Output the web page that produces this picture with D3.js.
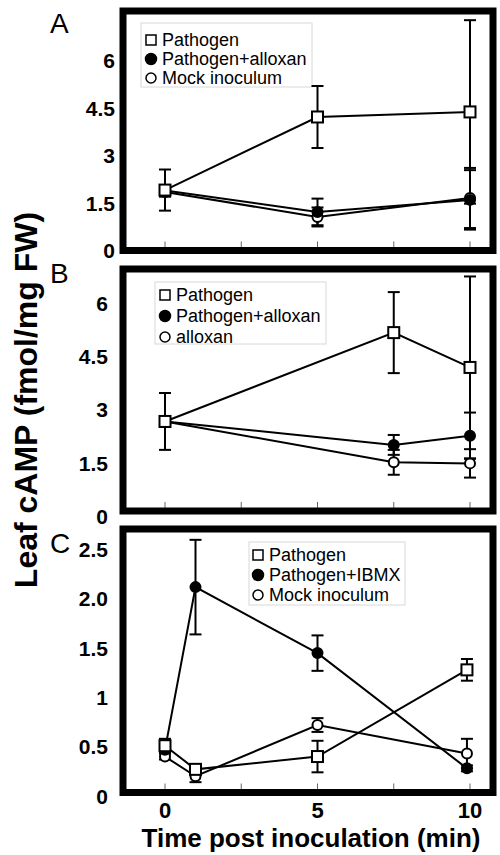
<!DOCTYPE html>
<html>
<head>
<meta charset="utf-8">
<script src="https://cdn.jsdelivr.net/npm/d3@7"></script>
<style>
  body { margin: 0; background: #fff; }
  svg { display: block; font-family: "Liberation Sans", Arial, sans-serif; }
</style>
</head>
<body>
<div id="chart"></div>
<script>
// ---- data ----
const timeA = [0, 5, 10];
const pathogenA = [1.91, 4.22, 4.38];
const pathogenErrA = [0.65, 0.98, 2.9];
const alloxanA = [1.9, 1.22, 1.6];
const alloxanErrA = [0.15, 0.42, 0.94];
const mockA = [1.85, 1.06, 1.66];
const mockErrA = [0.15, 0.3, 0.95];

const timeB = [0, 7.5, 10];
const pathogenB = [2.67, 5.17, 4.19];
const pathogenErrB = [0.8, 1.14, 2.56];
const pathAlloxanB = [2.67, 2.01, 2.27];
const pathAlloxanErrB = [0.15, 0.28, 0.65];
const alloxanB = [2.67, 1.52, 1.49];
const alloxanErrB = [0.15, 0.35, 0.4];

const timeC = [0, 1, 5, 9.9];
const pathogenC = [0.51, 0.27, 0.40, 1.28];
const pathogenErrC = [0.07, 0.05, 0.16, 0.11];
const ibmxC = [0.47, 2.12, 1.45, 0.28];
const ibmxErrC = [0.03, 0.48, 0.18, 0.03];
const mockC = [0.40, 0.20, 0.72, 0.43];
const mockErrC = [0.03, 0.06, 0.07, 0.15];

const legendA = ["Pathogen", "Pathogen+alloxan", "Mock inoculum"];
const legendB = ["Pathogen", "Pathogen+alloxan", "alloxan"];
const legendC = ["Pathogen", "Pathogen+IBMX", "Mock inoculum"];

const yTicksAB = [0, 1.5, 3, 4.5, 6];
const yTicksC = [0, 0.5, 1, 1.5, 2, 2.5];
const yTickLabelsC = ["0", "0.5", "1", "1.5", "2.0", "2.5"];
const xMinorTicks = [0, 2.5, 5, 7.5, 10];
const xTickLabels = [0, 5, 10];

// ---- layout ----
const W = 500, H = 855;
const frameLeft = 123, frameRight = 493;

const svg = d3.select("#chart").append("svg")
  .attr("width", W).attr("height", H);

const x = d3.scaleLinear().domain([0, 10]).range([165, 470]);

// draw order: open, filled, square (square on top)
const panels = [
  {
    letter: "A", letterY: 33, top: 11, bottom: 250.5, domain: [0, 7.57], labelX: 115,
    ticks: yTicksAB, tickLabels: yTicksAB.map(String),
    time: timeA,
    series: [
      { vals: mockA, err: mockErrA, kind: "open" },
      { vals: alloxanA, err: alloxanErrA, kind: "filled" },
      { vals: pathogenA, err: pathogenErrA, kind: "square" }
    ],
    legend: legendA, lbox: { x: 141, y: 23, w: 171, h: 64 }, lmark: 151, ltext: 162, lrow0: 40, lstep: 19
  },
  {
    letter: "B", letterY: 283, top: 269, bottom: 511, domain: [0.15, 6.96], labelX: 108,
    ticks: yTicksAB, tickLabels: yTicksAB.map(String),
    time: timeB,
    series: [
      { vals: alloxanB, err: alloxanErrB, kind: "open" },
      { vals: pathAlloxanB, err: pathAlloxanErrB, kind: "filled" },
      { vals: pathogenB, err: pathogenErrB, kind: "square" }
    ],
    legend: legendB, lbox: { x: 155, y: 282, w: 171, h: 62 }, lmark: 165, ltext: 176, lrow0: 295, lstep: 21
  },
  {
    letter: "C", letterY: 553, top: 529, bottom: 792.5, domain: [0.035, 2.71], labelX: 108,
    ticks: yTicksC, tickLabels: yTickLabelsC,
    time: timeC,
    series: [
      { vals: mockC, err: mockErrC, kind: "open" },
      { vals: ibmxC, err: ibmxErrC, kind: "filled" },
      { vals: pathogenC, err: pathogenErrC, kind: "square" }
    ],
    legend: legendC, lbox: { x: 249, y: 542, w: 156, h: 63 }, lmark: 258, ltext: 269, lrow0: 555, lstep: 20
  }
];
// legend rows follow the order square, filled, open
const legendKinds = ["square", "filled", "open"];

function drawMarker(g, kind, cx, cy, size) {
  if (kind === "square") {
    g.append("rect")
      .attr("x", cx - size / 2).attr("y", cy - size / 2)
      .attr("width", size).attr("height", size)
      .attr("fill", "#fff").attr("stroke", "#000").attr("stroke-width", 2);
  } else {
    g.append("circle")
      .attr("cx", cx).attr("cy", cy).attr("r", size / 2 - 0.5)
      .attr("fill", kind === "filled" ? "#000" : "#fff")
      .attr("stroke", "#000").attr("stroke-width", 2);
  }
}

panels.forEach(p => {
  const y = d3.scaleLinear().domain(p.domain).range([p.bottom, p.top]);
  const g = svg.append("g");

  // minor x ticks inside the bottom of the frame
  g.selectAll(".mt").data(xMinorTicks).join("line")
    .attr("x1", d => x(d)).attr("x2", d => x(d))
    .attr("y1", p.bottom - 3).attr("y2", p.bottom - 9)
    .attr("stroke", "#666").attr("stroke-width", 1);

  // y tick labels
  g.selectAll(".yl").data(p.ticks).join("text")
    .attr("x", p.labelX).attr("y", d => y(d))
    .attr("dy", "0.36em")
    .attr("text-anchor", "end")
    .attr("font-size", 21).attr("font-weight", "bold")
    .text((d, i) => p.tickLabels[i]);

  // panel letter
  g.append("text")
    .attr("x", 50).attr("y", p.letterY)
    .attr("font-size", 28)
    .text(p.letter);

  // legend
  const lg = g.append("g");
  lg.append("rect")
    .attr("x", p.lbox.x).attr("y", p.lbox.y)
    .attr("width", p.lbox.w).attr("height", p.lbox.h)
    .attr("fill", "#fff").attr("stroke", "#d8d8d8").attr("stroke-width", 1);
  p.legend.forEach((name, i) => {
    const cy = p.lrow0 + i * p.lstep;
    const kind = legendKinds[i];
    if (kind === "square") {
      lg.append("rect").attr("x", p.lmark - 5).attr("y", cy - 5)
        .attr("width", 10).attr("height", 10)
        .attr("fill", "#fff").attr("stroke", "#000").attr("stroke-width", 1.5);
    } else {
      lg.append("circle").attr("cx", p.lmark).attr("cy", cy).attr("r", kind === "filled" ? 5.5 : 5)
        .attr("fill", kind === "filled" ? "#000" : "#fff")
        .attr("stroke", "#000").attr("stroke-width", 1.5);
    }
    lg.append("text").attr("x", p.ltext).attr("y", cy).attr("dy", "0.36em")
      .attr("font-size", 18).text(name);
  });

  const line = d3.line().x((d, i) => x(p.time[i])).y(d => y(d));

  // lines
  p.series.forEach(s => {
    g.append("path").datum(s.vals)
      .attr("d", line)
      .attr("fill", "none").attr("stroke", "#000").attr("stroke-width", 2);
  });

  // error bars
  p.series.forEach(s => {
    const eb = g.append("g");
    s.vals.forEach((v, i) => {
      const cx = x(p.time[i]);
      const hi = y(v + s.err[i]);
      const lo = y(v - s.err[i]);
      eb.append("line").attr("x1", cx).attr("x2", cx).attr("y1", hi).attr("y2", lo)
        .attr("stroke", "#000").attr("stroke-width", 2);
      [hi, lo].forEach(yy => {
        eb.append("line").attr("x1", cx - 6).attr("x2", cx + 6).attr("y1", yy).attr("y2", yy)
          .attr("stroke", "#000").attr("stroke-width", 2);
      });
    });
  });

  // markers
  p.series.forEach(s => {
    s.vals.forEach((v, i) => {
      drawMarker(g, s.kind, x(p.time[i]), y(v), 11);
    });
  });

  // thick frame
  g.append("rect")
    .attr("x", frameLeft).attr("y", p.top)
    .attr("width", frameRight - frameLeft).attr("height", p.bottom - p.top)
    .attr("fill", "none").attr("stroke", "#000").attr("stroke-width", 7);
});

// x tick labels under panel C
svg.selectAll(".xl").data(xTickLabels).join("text")
  .attr("x", d => x(d)).attr("y", 818)
  .attr("text-anchor", "middle")
  .attr("font-size", 22).attr("font-weight", "bold")
  .text(d => d);

// axis titles
svg.append("text")
  .attr("x", 311).attr("y", 847)
  .attr("text-anchor", "middle")
  .attr("font-size", 26).attr("font-weight", "bold")
  .text("Time post inoculation (min)");

svg.append("text")
  .attr("transform", "translate(37,400) rotate(-90)")
  .attr("text-anchor", "middle")
  .attr("font-size", 32).attr("font-weight", "bold")
  .text("Leaf cAMP (fmol/mg FW)");
</script>
</body>
</html>
